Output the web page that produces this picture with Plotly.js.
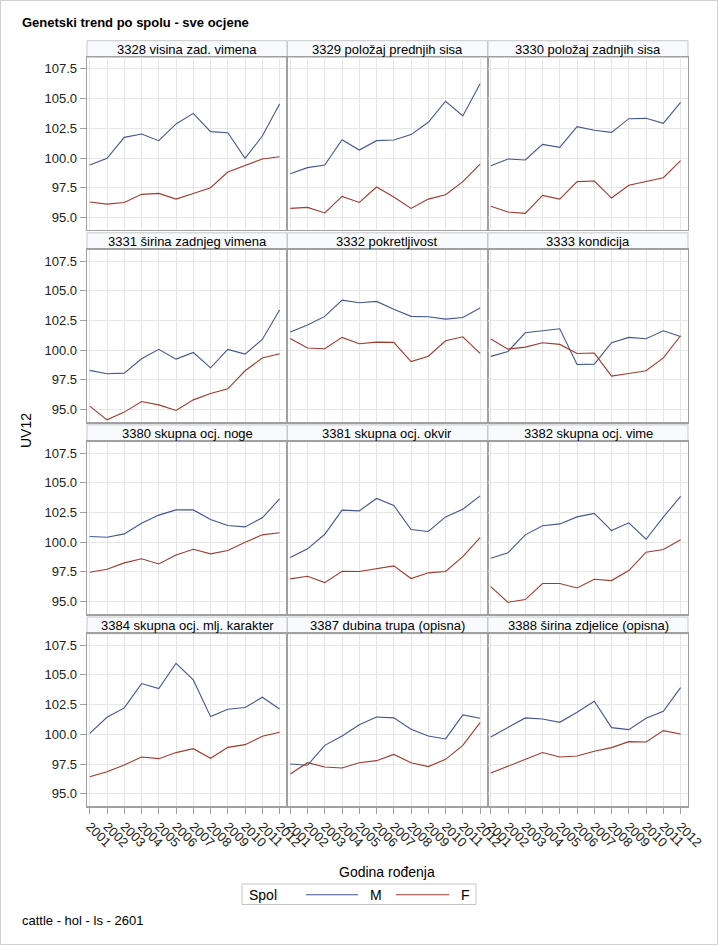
<!DOCTYPE html>
<html>
<head>
<meta charset="utf-8">
<script src="https://cdn.plot.ly/plotly-3.0.1.min.js"></script>
<style>html,body{margin:0;padding:0;background:#fff;}#chart{width:718px;height:945px;}</style>
</head>
<body>
<div id="chart"></div>
<script>
const years = [2001, 2002, 2003, 2004, 2005, 2006, 2007, 2008, 2009, 2010, 2011, 2012];
const yearLabels = ["2001","2002","2003","2004","2005","2006","2007","2008","2009","2010","2011","2012"];
const panelTitles = [
  "3328 visina zad. vimena", "3329 položaj prednjih sisa", "3330 položaj zadnjih sisa",
  "3331 širina zadnjeg vimena", "3332 pokretljivost", "3333 kondicija",
  "3380 skupna ocj. noge", "3381 skupna ocj. okvir", "3382 skupna ocj. vime",
  "3384 skupna ocj. mlj. karakter", "3387 dubina trupa (opisna)", "3388 širina zdjelice (opisna)"
];
const seriesNames = ["M", "F"];

const m3328 = [99.41, 99.97, 101.74, 102.02, 101.46, 102.87, 103.76, 102.22, 102.13, 99.97, 101.85, 104.55];
const f3328 = [96.29, 96.12, 96.26, 96.94, 97.02, 96.54, 97.02, 97.50, 98.82, 99.35, 99.92, 100.11];
const m3329 = [98.68, 99.19, 99.41, 101.54, 100.67, 101.46, 101.52, 101.97, 103.01, 104.78, 103.54, 106.26];
const f3329 = [95.76, 95.84, 95.37, 96.77, 96.26, 97.56, 96.71, 95.76, 96.54, 96.91, 98.01, 99.49];
const m3330 = [99.35, 99.92, 99.83, 101.15, 100.90, 102.64, 102.33, 102.16, 103.31, 103.34, 102.92, 104.69];
const f3330 = [95.93, 95.45, 95.34, 96.85, 96.54, 98.01, 98.06, 96.63, 97.70, 98.03, 98.34, 99.78];
const m3331 = [98.29, 98.01, 98.06, 99.27, 100.06, 99.24, 99.80, 98.51, 100.06, 99.66, 100.90, 103.37];
const f3331 = [95.28, 94.13, 94.78, 95.67, 95.39, 94.92, 95.81, 96.35, 96.74, 98.26, 99.33, 99.69];
const m3332 = [101.52, 102.11, 102.84, 104.21, 103.99, 104.10, 103.43, 102.84, 102.81, 102.61, 102.75, 103.54];
const f3332 = [100.98, 100.17, 100.11, 101.07, 100.53, 100.67, 100.65, 99.04, 99.49, 100.79, 101.12, 99.72];
const m3333 = [99.47, 99.89, 101.46, 101.66, 101.80, 98.79, 98.82, 100.62, 101.07, 100.96, 101.63, 101.15];
const f3333 = [100.93, 100.08, 100.25, 100.62, 100.48, 99.72, 99.75, 97.81, 98.03, 98.26, 99.35, 101.21];
const m3380 = [100.48, 100.42, 100.70, 101.60, 102.28, 102.72, 102.72, 101.91, 101.40, 101.29, 102.05, 103.65];
const f3380 = [97.47, 97.72, 98.26, 98.60, 98.17, 98.93, 99.41, 99.02, 99.30, 100.00, 100.62, 100.79];
const m3381 = [98.71, 99.44, 100.67, 102.70, 102.64, 103.68, 103.09, 101.07, 100.90, 102.13, 102.78, 103.90];
const f3381 = [96.91, 97.13, 96.60, 97.56, 97.53, 97.75, 98.01, 96.94, 97.42, 97.53, 98.79, 100.39];
const m3382 = [98.65, 99.10, 100.62, 101.38, 101.54, 102.13, 102.42, 100.98, 101.63, 100.25, 102.11, 103.85];
const f3382 = [96.26, 94.94, 95.17, 96.52, 96.52, 96.15, 96.88, 96.77, 97.61, 99.16, 99.38, 100.20];
const m3384 = [100.08, 101.43, 102.22, 104.27, 103.85, 105.98, 104.58, 101.49, 102.11, 102.25, 103.12, 102.13];
const f3384 = [96.43, 96.85, 97.42, 98.09, 97.95, 98.46, 98.79, 97.98, 98.90, 99.13, 99.83, 100.17];
const m3387 = [97.50, 97.39, 99.07, 99.86, 100.81, 101.46, 101.38, 100.42, 99.86, 99.61, 101.63, 101.35];
const f3387 = [96.66, 97.61, 97.25, 97.16, 97.61, 97.78, 98.31, 97.61, 97.28, 97.89, 99.07, 100.98];
const m3388 = [99.78, 100.59, 101.38, 101.29, 101.01, 101.85, 102.78, 100.56, 100.39, 101.35, 101.94, 103.93];
const f3388 = [96.74, 97.30, 97.86, 98.46, 98.09, 98.17, 98.57, 98.88, 99.38, 99.35, 100.31, 100.03];

const maleSeries = [m3328, m3329, m3330, m3331, m3332, m3333, m3380, m3381, m3382, m3384, m3387, m3388];
const femaleSeries = [f3328, f3329, f3330, f3331, f3332, f3333, f3380, f3381, f3382, f3384, f3387, f3388];

// ---- layout geometry (pixels) ----
const W = 718, H = 945;
const colLeft = [87, 287.5, 488];
const colW = 200;
const rowHeaderTop = [40.7, 232.8, 424.9, 617.0];
const headerH = 16.7;
const plotH = 172.7;
const FONT = "Liberation Sans, Arial, sans-serif";
const BLUE = "#445694", RED = "#A23A2E";
const fx = px => px / W;
const fy = py => 1 - py / H;

const data = [];
const layout = {
  width: W, height: H,
  margin: {l: 0, r: 0, t: 0, b: 0, pad: 0},
  paper_bgcolor: "#ffffff", plot_bgcolor: "#ffffff",
  font: {family: FONT, size: 13, color: "#000"},
  showlegend: false,
  shapes: [], annotations: []
};

for (let i = 0; i < 12; i++) {
  const r = Math.floor(i / 3), c = i % 3;
  const sfx = i === 0 ? "" : String(i + 1);
  const top = rowHeaderTop[r] + headerH;
  const bottom = top + plotH;
  const left = colLeft[c], right = colLeft[c] + colW;

  data.push({
    x: years, y: maleSeries[i], type: "scatter", mode: "lines", name: seriesNames[0],
    line: {color: BLUE, width: 1.1}, xaxis: "x" + sfx, yaxis: "y" + sfx, hoverinfo: "x+y"
  });
  data.push({
    x: years, y: femaleSeries[i], type: "scatter", mode: "lines", name: seriesNames[1],
    line: {color: RED, width: 1.1}, xaxis: "x" + sfx, yaxis: "y" + sfx, hoverinfo: "x+y"
  });

  layout["xaxis" + sfx] = {
    domain: [fx(left), fx(right)], anchor: "y" + sfx,
    range: [2000.84, 2012.43], tickvals: years, ticktext: yearLabels,
    showticklabels: r === 3, tickangle: 45,
    ticks: r === 3 ? "outside" : "", ticklen: 6, tickcolor: "#A0A0A0",
    tickfont: {family: FONT, size: 13, color: "#222"},
    showgrid: true, gridcolor: "#E6E6E6", gridwidth: 1,
    showline: true, linecolor: "#A0A0A0", linewidth: 1.3, mirror: true,
    zeroline: false, fixedrange: true
  };
  layout["yaxis" + sfx] = {
    domain: [fy(bottom), fy(top)], anchor: "x" + sfx,
    range: [93.93, 108.47], tick0: 95, dtick: 2.5, tickformat: ".1f",
    showticklabels: c === 0,
    ticks: c === 0 ? "outside" : "", ticklen: 6, tickcolor: "#A0A0A0",
    tickfont: {family: FONT, size: 13, color: "#222"},
    showgrid: true, gridcolor: "#E6E6E6", gridwidth: 1,
    showline: true, linecolor: "#A0A0A0", linewidth: 1.3, mirror: true,
    zeroline: false, fixedrange: true
  };

  layout.shapes.push({
    type: "rect", xref: "paper", yref: "paper",
    x0: fx(left), x1: fx(right), y0: fy(top), y1: fy(rowHeaderTop[r]),
    fillcolor: "#F8FAFE", line: {color: "#C8C8C8", width: 1}, layer: "below"
  });
  layout.annotations.push({
    xref: "paper", yref: "paper", x: fx((left + right) / 2), y: fy(rowHeaderTop[r] + headerH / 2 + 0.5),
    xanchor: "center", yanchor: "middle", showarrow: false, text: panelTitles[i],
    font: {family: FONT, size: 13, color: "#000"}
  });
}

// outer frame
layout.shapes.push({
  type: "rect", xref: "paper", yref: "paper",
  x0: fx(0.5), x1: fx(717.5), y0: fy(944.5), y1: fy(0.5),
  line: {color: "#D0D0D0", width: 1}, fillcolor: "rgba(0,0,0,0)", layer: "below"
});

// legend (box, sample lines, labels)
layout.shapes.push(
  {type: "rect", xref: "paper", yref: "paper", x0: fx(242), x1: fx(476), y0: fy(904.5), y1: fy(884),
   line: {color: "#C4C4C4", width: 1}, fillcolor: "#ffffff", layer: "below"},
  {type: "line", xref: "paper", yref: "paper", x0: fx(306), x1: fx(358), y0: fy(894.7), y1: fy(894.7),
   line: {color: BLUE, width: 1.1}},
  {type: "line", xref: "paper", yref: "paper", x0: fx(396), x1: fx(449), y0: fy(894.7), y1: fy(894.7),
   line: {color: RED, width: 1.1}}
);

layout.annotations.push(
  {xref: "paper", yref: "paper", x: fx(247), y: fy(894.5), xanchor: "left", yanchor: "middle",
   showarrow: false, text: "Spol", font: {family: FONT, size: 14, color: "#000"}},
  {xref: "paper", yref: "paper", x: fx(368), y: fy(894.5), xanchor: "left", yanchor: "middle",
   showarrow: false, text: seriesNames[0], font: {family: FONT, size: 14, color: "#000"}},
  {xref: "paper", yref: "paper", x: fx(459), y: fy(894.5), xanchor: "left", yanchor: "middle",
   showarrow: false, text: seriesNames[1], font: {family: FONT, size: 14, color: "#000"}},
  {xref: "paper", yref: "paper", x: fx(20), y: fy(23), xanchor: "left", yanchor: "middle",
   showarrow: false, text: "<b>Genetski trend po spolu - sve ocjene</b>",
   font: {family: FONT, size: 13, color: "#000"}},
  {xref: "paper", yref: "paper", x: fx(26), y: fy(431), xanchor: "center", yanchor: "middle",
   showarrow: false, text: "UV12", textangle: -90,
   font: {family: FONT, size: 14, color: "#000"}},
  {xref: "paper", yref: "paper", x: fx(386.5), y: fy(871.5), xanchor: "center", yanchor: "middle",
   showarrow: false, text: "Godina rođenja",
   font: {family: FONT, size: 14, color: "#000"}},
  {xref: "paper", yref: "paper", x: fx(20), y: fy(920), xanchor: "left", yanchor: "middle",
   showarrow: false, text: "cattle - hol - ls - 2601",
   font: {family: FONT, size: 13, color: "#000"}}
);

Plotly.newPlot("chart", data, layout, {displayModeBar: false, staticPlot: true});
</script>
</body>
</html>
